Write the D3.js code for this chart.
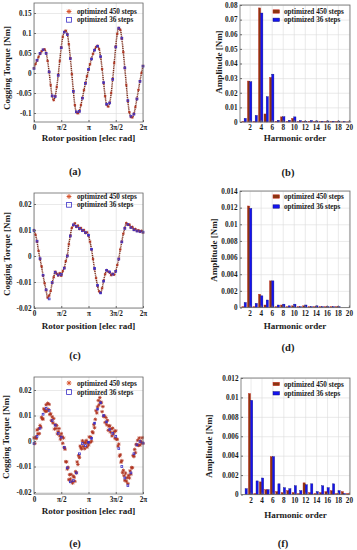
<!DOCTYPE html>
<html><head><meta charset="utf-8">
<script src="https://cdn.jsdelivr.net/npm/d3@7/dist/d3.min.js"></script>
<style>
body{margin:0;background:#fff}
svg{display:block}
text{font-family:"Liberation Serif","Times New Roman",serif;font-weight:bold;fill:#1a1a1a}
</style>
</head><body>
<svg id="c" width="357" height="550"></svg>
<script>
// ---------------- DATA ----------------
const seriesNames = ["optimized 450 steps", "optimized 36 steps"];
const angleTickLabels = ["0", "π/2", "π", "3π/2", "2π"];
const angleTickFractions = [0, 0.25, 0.5, 0.75, 1]; // of a full electrical period

// (a) cogging torque [Nm], 450-step (sampled every 5°) and 36-step (every 10°)
const torqueA450 = [0.012,0.022,0.031,0.040,0.048,0.054,0.058,0.059,0.050,0.030,0.002,-0.030,-0.058,-0.068,-0.058,-0.035,-0.005,0.030,0.064,0.090,0.103,0.106,0.097,0.072,0.037,-0.003,-0.045,-0.080,-0.098,-0.101,-0.095,-0.080,-0.062,-0.043,-0.025,-0.008,0.008,0.022,0.036,0.048,0.058,0.065,0.068,0.060,0.040,0.010,-0.025,-0.058,-0.079,-0.084,-0.074,-0.050,-0.015,0.025,0.066,0.098,0.113,0.108,0.086,0.052,0.012,-0.030,-0.070,-0.098,-0.110,-0.111,-0.102,-0.085,-0.064,-0.042,-0.020,0.000,0.018];
const torqueA36 = [0.011,0.032,0.049,0.058,0.049,0.003,-0.057,-0.059,-0.006,0.063,0.102,0.096,0.036,-0.046,-0.097,-0.096,-0.063,-0.026,0.009,0.035,0.057,0.067,0.041,-0.024,-0.078,-0.075,-0.016,0.065,0.112,0.087,0.013,-0.069,-0.108,-0.103,-0.065,-0.021,0.017];
const yTicksA = [-0.1,-0.05,0,0.05,0.1,0.15];
const yTickLabelsA = ["-0.1","-0.05","0","0.05","0.1","0.15"];

// (c)
const torqueC450 = [0.0100,0.0082,0.0055,0.0020,-0.0012,-0.0040,-0.0075,-0.0105,-0.0132,-0.0160,-0.0152,-0.0135,-0.0103,-0.0082,-0.0060,-0.0068,-0.0075,-0.0066,-0.0076,-0.0058,-0.0045,-0.0020,0.0002,0.0045,0.0078,0.0108,0.0118,0.0126,0.0112,0.0117,0.0104,0.0108,0.0097,0.0100,0.0088,0.0091,0.0078,0.0055,0.0025,-0.0012,-0.0050,-0.0085,-0.0115,-0.0136,-0.0141,-0.0124,-0.0095,-0.0070,-0.0054,-0.0060,-0.0064,-0.0074,-0.0068,-0.0072,-0.0058,-0.0035,-0.0010,0.0025,0.0055,0.0086,0.0108,0.0127,0.0120,0.0121,0.0110,0.0112,0.0100,0.0104,0.0096,0.0099,0.0093,0.0097,0.0090];
const torqueC36 = [0.0098,0.0057,-0.0010,-0.0074,-0.0130,-0.0165,-0.0102,-0.0063,-0.0073,-0.0071,-0.0047,0.0000,0.0077,0.0120,0.0114,0.0106,0.0098,0.0090,0.0080,0.0026,-0.0048,-0.0113,-0.0142,-0.0097,-0.0055,-0.0061,-0.0070,-0.0059,-0.0012,0.0054,0.0106,0.0121,0.0109,0.0101,0.0096,0.0094,0.0092];
const yTicksCE = [-0.02,-0.01,0,0.01,0.02];
const yTickLabelsCE = ["-0.02","-0.01","0","0.01","0.02"];

// (e) 450-step sampled every 2.5°
const torqueE450 = [0.0012,-0.0010,0.0015,0.0010,0.0043,0.0028,0.0048,0.0029,0.0061,0.0054,
0.0093,0.0087,0.0086,0.0126,0.0122,0.0116,0.0142,0.0117,0.0148,0.0124,
0.0144,0.0104,0.0107,0.0080,0.0095,0.0071,0.0088,0.0047,0.0064,0.0049,
0.0061,0.0028,0.0037,0.0049,0.0020,0.0007,0.0029,0.0017,-0.0009,0.0012,
-0.0026,-0.0032,-0.0081,-0.0082,-0.0110,-0.0103,-0.0152,-0.0132,-0.0149,-0.0131,
-0.0159,-0.0165,-0.0138,-0.0142,-0.0158,-0.0120,-0.0125,-0.0082,-0.0092,-0.0057,
-0.0065,-0.0020,-0.0027,-0.0031,0.0001,-0.0021,-0.0006,-0.0030,-0.0007,0.0002,
-0.0024,-0.0007,-0.0016,0.0016,-0.0006,0.0015,-0.0001,0.0036,0.0032,0.0064,
0.0052,0.0085,0.0119,0.0110,0.0134,0.0159,0.0142,0.0170,0.0153,0.0150,
0.0115,0.0135,0.0096,0.0099,0.0073,0.0092,0.0064,0.0081,0.0042,0.0058,
0.0060,0.0035,0.0048,0.0020,0.0050,0.0028,0.0037,0.0011,0.0040,0.0007,
0.0007,-0.0020,-0.0012,-0.0059,-0.0054,-0.0083,-0.0077,-0.0124,-0.0115,-0.0136,
-0.0154,-0.0126,-0.0158,-0.0144,-0.0167,-0.0135,-0.0145,-0.0117,-0.0130,-0.0104,
-0.0105,-0.0057,-0.0061,-0.0033,-0.0046,-0.0013,-0.0016,0.0003,-0.0017,0.0012,
-0.0016,0.0000,-0.0007,0.0013,-0.0009];
const torqueE36 = [-0.0010,0.0018,0.0050,0.0105,0.0128,0.0120,0.0080,0.0062,0.0030,0.0015,-0.0025,-0.0105,-0.0160,-0.0155,-0.0125,-0.0050,-0.0010,-0.0018,-0.0005,0.0010,0.0070,0.0125,0.0150,0.0100,0.0075,0.0045,0.0030,0.0018,-0.0030,-0.0100,-0.0145,-0.0175,-0.0125,-0.0050,-0.0015,-0.0002,-0.0008];

// harmonic spectra [Nm]
const harmonicOrders = [1,2,3,4,5,6,7,8,9,10,11,12,13,14,15,16,17,18,19,20];
const harmonicTicks = [2,4,6,8,10,12,14,16,18,20];
const ampB450 = [0.0003,0.0280,0.0003,0.0780,0.0055,0.0305,0.0004,0.0035,0.0003,0.0025,0.0003,0.0003,0.0004,0.0002,0.0003,0.0002,0.0002,0.0002,0.0001,0.0001];
const ampB36  = [0.0025,0.0275,0.0045,0.0745,0.0173,0.0327,0.0012,0.0036,0.0012,0.0035,0.0010,0.0005,0.0010,0.0007,0.0005,0.0007,0.0005,0.0006,0.0002,0.0001];
const yTicksB = [0,0.01,0.02,0.03,0.04,0.05,0.06,0.07,0.08];
const yTickLabelsB = ["0","0.01","0.02","0.03","0.04","0.05","0.06","0.07","0.08"];

const ampD450 = [0.0001,0.0122,0.0001,0.0016,0.0003,0.0032,0.0001,0.0003,0.0001,0.0002,0.0001,0.0002,0.0001,0.0001,0.0001,0.0001,0.0001,0.0001,0.0000,0.0000];
const ampD36  = [0.0006,0.0119,0.0005,0.0014,0.0009,0.0032,0.0003,0.0004,0.0002,0.0004,0.0001,0.0003,0.0001,0.0002,0.0001,0.0001,0.0001,0.0001,0.0000,0.0000];
const yTicksD = [0,0.002,0.004,0.006,0.008,0.01,0.012,0.014];
const yTickLabelsD = ["0","0.002","0.004","0.006","0.008","0.01","0.012","0.014"];

const ampF450 = [0.0000,0.0104,0.0001,0.0013,0.0005,0.0039,0.0003,0.0002,0.0004,0.0002,0.0001,0.0012,0.0002,0.0001,0.0002,0.0003,0.0004,0.0001,0.0003,0.0001];
const ampF36  = [0.0006,0.0097,0.0014,0.0017,0.0005,0.0039,0.0011,0.0007,0.0006,0.0009,0.0004,0.0010,0.0011,0.0003,0.0009,0.0007,0.0011,0.0004,0.0001,0.0000];
const yTicksF = [0,0.002,0.004,0.006,0.008,0.01,0.012];
const yTickLabelsF = ["0","0.002","0.004","0.006","0.008","0.01","0.012"];

// ---------------- DRAWING ----------------
const svg = d3.select("#c");
const TAU = 2 * Math.PI;
const C450 = "#b03420", C36 = "#3a2fc8";
const BAR450 = "#8a3510", BAR36 = "#1414ee";
const GRID = "#dcdcdc", BOX = "#6a6a6a";
const TICKFS = 7.2, LABFS = 9, LEGFS = 7.2, CAPFS = 10.5;

function starPath(r) {
  const k = r * 0.72;
  return `M${-r},0L${r},0M0,${-r}L0,${r}M${-k},${-k}L${k},${k}M${-k},${k}L${k},${-k}`;
}

function frame(g, x, y, xt, yt, box) {
  g.append("g").attr("transform", `translate(0,${box.y1})`)
    .call(d3.axisBottom(x).tickValues(xt).tickSize(-(box.y1 - box.y0)).tickFormat(""))
    .call(s => { s.select(".domain").remove(); s.selectAll("line").attr("stroke", GRID).attr("stroke-width", 0.6); });
  g.append("g").attr("transform", `translate(${box.x0},0)`)
    .call(d3.axisLeft(y).tickValues(yt).tickSize(-(box.x1 - box.x0)).tickFormat(""))
    .call(s => { s.select(".domain").remove(); s.selectAll("line").attr("stroke", GRID).attr("stroke-width", 0.6); });
}

function styleTicks(sel) {
  sel.select(".domain").remove();
  sel.selectAll("line").attr("stroke", BOX);
  sel.selectAll("text").style("font-size", TICKFS + "px").attr("fill", "#1a1a1a")
    .style("font-family", '"Liberation Serif",serif').style("font-weight", "bold");
}

function axesOn(g, x, y, xt, xtl, yt, ytl, box) {
  g.append("rect").attr("x", box.x0).attr("y", box.y0)
    .attr("width", box.x1 - box.x0).attr("height", box.y1 - box.y0)
    .attr("fill", "none").attr("stroke", BOX).attr("stroke-width", 0.8);
  g.append("g").attr("transform", `translate(0,${box.y1})`)
    .call(d3.axisBottom(x).tickValues(xt).tickSizeInner(-2).tickSizeOuter(0).tickPadding(3.2)
      .tickFormat((d, i) => xtl[i])).call(styleTicks);
  g.append("g").attr("transform", `translate(${box.x0},0)`)
    .call(d3.axisLeft(y).tickValues(yt).tickSizeInner(-2).tickSizeOuter(0).tickPadding(2.5)
      .tickFormat((d, i) => ytl[i])).call(styleTicks);
}

function torquePanel(o) {
  const g = svg.append("g");
  const box = o.box;
  const x = d3.scaleLinear().domain([0, TAU]).range([box.x0, box.x1]);
  const y = d3.scaleLinear().domain(o.yDomain).range([box.y1, box.y0]);
  const xt = angleTickFractions.map(f => f * TAU);
  frame(g, x, y, xt, o.yTicks, box);
  const pts450 = o.s450.map((v, i) => [i * TAU / (o.s450.length - 1), v]);
  const pts36 = o.s36.map((v, i) => [i * TAU / (o.s36.length - 1), v]);
  if (o.dense) {
    g.append("path").datum(pts450)
      .attr("d", d3.line().x(d => x(d[0])).y(d => y(d[1])).curve(d3.curveCatmullRom))
      .attr("fill", "none").attr("stroke", "#7a2a18").attr("stroke-width", 1.5)
      .attr("stroke-dasharray", "1.1 0.7");
  }
  g.append("g").selectAll("path").data(pts450).join("path")
    .attr("transform", d => `translate(${x(d[0])},${y(d[1])})`)
    .attr("d", starPath(o.dense ? 1.3 : 1.8)).attr("stroke", C450).attr("stroke-width", 0.8).attr("fill", "none");
  g.append("g").selectAll("rect").data(pts36).join("rect")
    .attr("x", d => x(d[0]) - 0.9).attr("y", d => y(d[1]) - 0.9)
    .attr("width", 1.8).attr("height", 1.8)
    .attr("fill", "none").attr("stroke", C36).attr("stroke-width", 0.8);
  axesOn(g, x, y, xt, angleTickLabels, o.yTicks, o.yTickLabels, box);
  const L = o.leg;
  g.append("path").attr("transform", `translate(${L.x},${L.y1})`).attr("d", starPath(2.4))
    .attr("stroke", "#d8552f").attr("stroke-width", 1).attr("fill", "none");
  g.append("rect").attr("x", L.x - 2.4).attr("y", L.y2 - 2.4).attr("width", 4.8).attr("height", 4.8)
    .attr("fill", "none").attr("stroke", C36).attr("stroke-width", 0.8);
  g.append("text").attr("x", L.x + 8).attr("y", L.y1 + 2.5).style("font-size", LEGFS + "px").text(seriesNames[0]);
  g.append("text").attr("x", L.x + 8).attr("y", L.y2 + 2.5).style("font-size", LEGFS + "px").text(seriesNames[1]);
  g.append("text").attr("transform", `translate(${o.yl.x},${o.yl.y}) rotate(-90)`)
    .attr("text-anchor", "middle").style("font-size", LABFS + "px").text("Cogging Torque [Nm]");
  g.append("text").attr("x", (box.x0 + box.x1) / 2).attr("y", o.xlY).attr("text-anchor", "middle")
    .style("font-size", LABFS + "px").text("Rotor position [elec rad]");
  g.append("text").attr("x", o.cap.x).attr("y", o.cap.y).attr("text-anchor", "middle")
    .style("font-size", CAPFS + "px").text(o.cap.t);
}

function barPanel(o) {
  const g = svg.append("g");
  const box = o.box;
  const x = d3.scaleLinear().domain([0.25, 20.2]).range([box.x0, box.x1]);
  const y = d3.scaleLinear().domain(o.yDomain).range([box.y1, box.y0]);
  frame(g, x, y, harmonicTicks, o.yTicks, box);
  const bw = 0.4;
  const w = x(bw) - x(0);
  g.append("g").selectAll("rect").data(harmonicOrders.map((h, i) => [h, o.s450[i]])).join("rect")
    .attr("x", d => x(d[0] - bw)).attr("width", w)
    .attr("y", d => y(d[1])).attr("height", d => y(0) - y(d[1]))
    .attr("fill", BAR450).attr("stroke", "#c8281e").attr("stroke-width", 0.4);
  g.append("g").selectAll("rect").data(harmonicOrders.map((h, i) => [h, o.s36[i]])).join("rect")
    .attr("x", d => x(d[0])).attr("width", w)
    .attr("y", d => y(d[1])).attr("height", d => y(0) - y(d[1]))
    .attr("fill", BAR36).attr("stroke", "#101080").attr("stroke-width", 0.4);
  axesOn(g, x, y, harmonicTicks, harmonicTicks.map(String), o.yTicks, o.yTickLabels, box);
  const L = o.leg;
  g.append("rect").attr("x", L.x).attr("y", L.y1 - 1.7).attr("width", 6.5).attr("height", 3.4)
    .attr("fill", BAR450).attr("stroke", "#c8281e").attr("stroke-width", 0.5);
  g.append("rect").attr("x", L.x).attr("y", L.y2 - 1.7).attr("width", 6.5).attr("height", 3.4)
    .attr("fill", BAR36).attr("stroke", "#101080").attr("stroke-width", 0.5);
  g.append("text").attr("x", L.x + 11).attr("y", L.y1 + 2.5).style("font-size", LEGFS + "px").text(seriesNames[0]);
  g.append("text").attr("x", L.x + 11).attr("y", L.y2 + 2.5).style("font-size", LEGFS + "px").text(seriesNames[1]);
  g.append("text").attr("transform", `translate(${o.yl.x},${o.yl.y}) rotate(-90)`)
    .attr("text-anchor", "middle").style("font-size", LABFS + "px").text("Amplitude [Nm]");
  g.append("text").attr("x", (box.x0 + box.x1) / 2).attr("y", o.xlY).attr("text-anchor", "middle")
    .style("font-size", LABFS + "px").text("Harmonic order");
  g.append("text").attr("x", o.cap.x).attr("y", o.cap.y).attr("text-anchor", "middle")
    .style("font-size", CAPFS + "px").text(o.cap.t);
}

torquePanel({ box: {x0: 34, x1: 143, y0: 3, y1: 122}, yDomain: [-0.1225, 0.175], dense: true,
  yTicks: yTicksA, yTickLabels: yTickLabelsA, s450: torqueA450, s36: torqueA36,
  leg: {x: 69, y1: 11.5, y2: 19.8}, yl: {x: 10, y: 68}, xlY: 141, cap: {x: 75, y: 175, t: "(a)"} });
torquePanel({ box: {x0: 34, x1: 143, y0: 193, y1: 308}, yDomain: [-0.02, 0.02423], dense: true,
  yTicks: yTicksCE, yTickLabels: yTickLabelsCE, s450: torqueC450, s36: torqueC36,
  leg: {x: 69, y1: 196.5, y2: 204.8}, yl: {x: 10, y: 254}, xlY: 329, cap: {x: 75, y: 359, t: "(c)"} });
torquePanel({ box: {x0: 34, x1: 143, y0: 377, y1: 494}, yDomain: [-0.02078, 0.0251], dense: false,
  yTicks: yTicksCE, yTickLabels: yTickLabelsCE, s450: torqueE450, s36: torqueE36,
  leg: {x: 69, y1: 383, y2: 392}, yl: {x: 9, y: 437}, xlY: 514, cap: {x: 75, y: 547, t: "(e)"} });

barPanel({ box: {x0: 240, x1: 350, y0: 5, y1: 122}, yDomain: [0, 0.08],
  yTicks: yTicksB, yTickLabels: yTickLabelsB, s450: ampB450, s36: ampB36,
  leg: {x: 273, y1: 11.5, y2: 19.8}, yl: {x: 222, y: 62}, xlY: 141, cap: {x: 288, y: 176, t: "(b)"} });
barPanel({ box: {x0: 240, x1: 350, y0: 191, y1: 307.5}, yDomain: [0, 0.014],
  yTicks: yTicksD, yTickLabels: yTickLabelsD, s450: ampD450, s36: ampD36,
  leg: {x: 273, y1: 196.5, y2: 206.5}, yl: {x: 217, y: 250}, xlY: 329, cap: {x: 288, y: 351, t: "(d)"} });
barPanel({ box: {x0: 241, x1: 350, y0: 378, y1: 494.5}, yDomain: [0, 0.012],
  yTicks: yTicksF, yTickLabels: yTickLabelsF, s450: ampF450, s36: ampF36,
  leg: {x: 273, y1: 384, y2: 393.3}, yl: {x: 212, y: 446}, xlY: 517.5, cap: {x: 283, y: 547, t: "(f)"} });
</script>
</body></html>
